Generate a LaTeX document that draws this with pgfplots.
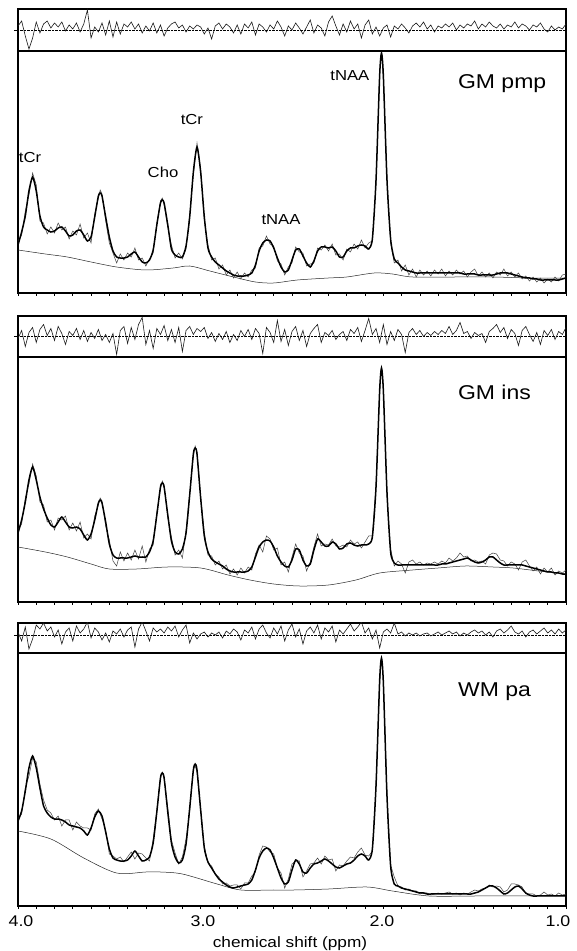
\documentclass[border=0pt]{standalone}
\usepackage{fontspec}
\setmainfont{Liberation Sans}[FakeStretch=1.15]
\usepackage{pgfplots}
\usepackage{pgfplotstable}
\pgfplotsset{compat=1.18}

% spectra: ppm, fit (thick), measured (thin); heights in pt above the panel floor
\pgfplotstableread{
x fit dat
4.00 48 52
3.98 61 58
3.96 77 82
3.94 102 98
3.92 116 120
3.90 102 108
3.88 77 72
3.86 66 70
3.84 63 59
3.82 61 66
3.80 62 60
3.78 65 70
3.76 66 63
3.74 62 66
3.72 57 54
3.70 58 62
3.68 62 58
3.66 63 69
3.64 58 55
3.62 52 60
3.60 56 50
3.58 76 79
3.56 97 95
3.55 100 103
3.54 97 99
3.52 76 72
3.50 56 50
3.48 42 40
3.46 36 30
3.44 35 39
3.42 35 33
3.40 36 40
3.38 39 36
3.36 41 45
3.34 36 33
3.32 31 35
3.30 30 27
3.28 33 34
3.26 43 40
3.24 68 70
3.22 90 92
3.21 93 95
3.20 90 88
3.18 68 66
3.16 44 48
3.14 38 35
3.12 36 40
3.10 36 34
3.08 47 44
3.06 76 79
3.04 121 118
3.02 146 150
3.00 121 124
2.98 76 72
2.96 45 48
2.94 36 33
2.92 31 35
2.90 28 24
2.88 25 28
2.86 22 18
2.84 20 23
2.82 18 15
2.80 17 21
2.78 17 14
2.76 17 20
2.74 18 16
2.72 20 23
2.70 28 25
2.68 42 45
2.66 50 47
2.64 53 57
2.62 52 49
2.60 45 47
2.58 35 32
2.56 26 29
2.54 21 18
2.52 23 26
2.50 33 30
2.48 43 46
2.46 44 41
2.44 37 40
2.42 30 27
2.40 26 29
2.38 32 30
2.36 42 45
2.34 46 43
2.32 46 48
2.30 45 42
2.28 46 49
2.26 42 38
2.24 36 39
2.22 36 33
2.20 42 44
2.18 45 41
2.16 45 49
2.14 47 44
2.12 48 53
2.10 47 45
2.08 44 50
2.06 54 52
2.04 113 108
2.02 218 222
2.01 240 241
2.00 218 214
1.98 113 117
1.96 54 50
1.94 34 30
1.92 30 33
1.90 26 22
1.88 23 28
1.86 22 18
1.84 21 24
1.82 20 16
1.80 20 23
1.78 20 18
1.76 20 22
1.74 20 17
1.72 20 23
1.70 20 19
1.68 20 24
1.66 20 17
1.64 20 22
1.62 20 18
1.60 20 23
1.58 20 19
1.56 19 22
1.54 19 16
1.52 19 21
1.50 19 24
1.48 18 17
1.46 18 21
1.44 18 16
1.42 18 20
1.40 18 15
1.38 19 21
1.36 20 18
1.34 20 24
1.32 20 17
1.30 19 21
1.28 18 16
1.26 17 20
1.24 16 14
1.22 15 17
1.20 15 12
1.18 14 16
1.16 14 11
1.14 13 15
1.12 13 10
1.10 13 14
1.08 13 11
1.06 13 16
1.04 13 12
1.02 14 18
1.00 15 19
}\specA

\pgfplotstableread{
x fit dat
4.00 69 72
3.98 82 78
3.96 100 104
3.94 122 118
3.92 135 138
3.90 122 126
3.88 105 100
3.86 93 97
3.84 84 80
3.82 77 82
3.80 75 72
3.78 80 84
3.76 85 82
3.74 80 86
3.72 75 72
3.70 74 79
3.68 75 71
3.66 73 80
3.64 67 64
3.62 62 68
3.60 68 63
3.58 82 86
3.56 99 97
3.55 102 104
3.54 99 101
3.52 80 76
3.50 58 62
3.48 47 41
3.46 44 36
3.44 44 50
3.42 44 41
3.40 44 49
3.38 45 42
3.36 46 52
3.34 45 43
3.32 45 56
3.30 45 40
3.28 50 53
3.26 61 57
3.24 87 90
3.22 115 113
3.21 119 121
3.20 115 117
3.18 87 84
3.16 61 65
3.14 50 47
3.12 48 52
3.10 53 44
3.08 69 72
3.06 107 110
3.04 148 146
3.03 154 156
3.02 148 150
3.00 104 106
2.98 66 70
2.96 50 47
2.94 43 46
2.92 40 37
2.90 38 41
2.88 36 33
2.86 33 37
2.84 31 28
2.82 30 33
2.80 30 27
2.78 30 34
2.76 30 29
2.74 31 35
2.72 35 32
2.70 45 48
2.68 55 57
2.66 60 50
2.64 62 66
2.62 61 63
2.60 55 52
2.58 46 54
2.56 40 37
2.54 36 40
2.52 35 30
2.50 42 45
2.48 53 58
2.46 52 49
2.44 42 46
2.42 36 31
2.40 38 40
2.38 52 55
2.36 63 68
2.34 60 56
2.32 56 58
2.30 56 57
2.28 60 63
2.26 58 56
2.24 53 55
2.22 54 57
2.20 58 55
2.18 59 62
2.16 57 58
2.14 56 60
2.12 57 54
2.10 57 60
2.08 58 66
2.06 65 66
2.04 115 118
2.02 212 210
2.01 234 235
2.00 212 216
1.98 110 106
1.96 50 53
1.94 39 36
1.92 37 41
1.90 37 38
1.88 37 29
1.86 37 40
1.84 37 42
1.82 37 38
1.80 37 40
1.78 37 37
1.76 37 39
1.74 37 38
1.72 37 40
1.70 37 38
1.68 38 41
1.66 38 39
1.64 39 44
1.62 40 41
1.60 41 44
1.58 42 49
1.56 43 45
1.54 44 46
1.52 42 41
1.50 40 42
1.48 39 40
1.46 40 41
1.44 42 38
1.42 45 47
1.40 45 49
1.38 42 48
1.36 39 42
1.34 37 41
1.32 37 36
1.30 37 40
1.28 37 38
1.26 37 32
1.24 37 40
1.22 36 42
1.20 35 36
1.18 34 31
1.16 33 35
1.14 32 28
1.12 31 34
1.10 30 30
1.08 30 34
1.06 29 27
1.04 29 31
1.02 28 29
1.00 28 32
}\specB

\pgfplotstableread{
x fit dat
4.00 85 87
3.98 95 92
3.96 115 118
3.94 138 130
3.92 150 148
3.90 138 144
3.88 118 122
3.86 100 106
3.84 93 96
3.82 89 93
3.80 87 86
3.78 87 90
3.76 86 80
3.74 84 86
3.72 81 86
3.70 80 76
3.68 79 84
3.66 78 80
3.64 75 78
3.62 71 78
3.60 78 76
3.58 89 92
3.56 95 97
3.54 90 87
3.52 74 76
3.50 57 52
3.48 48 50
3.46 46 47
3.44 45 49
3.42 45 44
3.40 46 49
3.38 50 54
3.36 55 47
3.34 50 53
3.32 45 52
3.30 46 48
3.28 49 45
3.26 63 67
3.24 94 96
3.22 128 130
3.21 133 134
3.20 128 129
3.18 94 98
3.16 63 66
3.14 49 53
3.12 43 42
3.10 46 49
3.08 62 67
3.06 98 94
3.04 136 137
3.03 142 140
3.02 136 134
3.00 96 97
2.98 58 60
2.96 44 43
2.94 38 40
2.92 32 32
2.90 27 29
2.88 24 22
2.86 21 23
2.84 19 20
2.82 18 21
2.80 19 21
2.78 20 17
2.76 21 23
2.74 22 23
2.72 26 30
2.70 36 34
2.68 48 51
2.66 55 60
2.64 58 59
2.62 56 54
2.60 48 52
2.58 38 38
2.56 28 33
2.54 22 18
2.52 24 27
2.50 36 42
2.48 46 45
2.46 42 45
2.44 34 29
2.42 33 35
2.40 38 42
2.38 42 43
2.36 43 48
2.34 45 42
2.32 47 50
2.30 45 46
2.28 42 47
2.26 39 35
2.24 38 41
2.22 40 40
2.20 42 45
2.18 43 49
2.16 46 48
2.14 50 54
2.12 52 58
2.10 50 51
2.08 46 50
2.06 57 55
2.04 120 123
2.02 226 222
2.01 248 249
2.00 224 226
1.98 110 113
1.96 40 41
1.94 22 29
1.92 20 20
1.90 18 19
1.88 17 16
1.86 16 17
1.84 15 15
1.82 14 15
1.80 13 12
1.78 13 13
1.76 12 13
1.74 12 11
1.72 12 12
1.70 12 13
1.68 12 12
1.66 12 13
1.64 12 14
1.62 12 12
1.60 12 13
1.58 12 11
1.56 12 13
1.54 12 12
1.52 12 14
1.50 13 16
1.48 14 15
1.46 16 17
1.44 18 18
1.42 20 21
1.40 20 19
1.38 18 20
1.36 15 19
1.34 12 14
1.32 13 16
1.30 16 22
1.28 19 22
1.26 20 21
1.24 17 19
1.22 13 12
1.20 11 12
1.18 10 12
1.16 10 10
1.14 10 11
1.12 10 14
1.10 10 11
1.08 10 12
1.06 10 10
1.04 10 13
1.02 10 11
1.00 10 12
}\specC

% residuals
\pgfplotstableread{
x r
4.00 4
3.98 9
3.96 -6
3.94 -19
3.92 -8
3.90 8
3.88 -3
3.86 6
3.84 9
3.82 2
3.80 7
3.78 3
3.76 8
3.74 -1
3.72 5
3.70 1
3.68 7
3.66 -2
3.64 6
3.62 20
3.60 -8
3.58 3
3.56 -2
3.54 7
3.52 -5
3.50 9
3.48 -7
3.46 8
3.44 -4
3.42 6
3.40 3
3.38 8
3.36 1
3.34 6
3.32 -3
3.30 4
3.28 -1
3.26 7
3.24 -3
3.22 5
3.20 -6
3.18 2
3.16 6
3.14 8
3.12 2
3.10 5
3.08 -2
3.06 4
3.04 1
3.02 5
3.00 3
2.98 -4
2.96 2
2.94 -9
2.92 4
2.90 7
2.88 1
2.86 6
2.84 3
2.82 -3
2.80 5
2.78 -4
2.76 6
2.74 2
2.72 8
2.70 -5
2.68 6
2.66 3
2.64 -2
2.62 5
2.60 1
2.58 9
2.56 3
2.54 -6
2.52 4
2.50 0
2.48 7
2.46 2
2.44 -4
2.42 3
2.40 10
2.38 -3
2.36 5
2.34 2
2.32 -6
2.30 8
2.28 14
2.26 4
2.24 -5
2.22 6
2.20 -2
2.18 9
2.16 1
2.14 6
2.12 -8
2.10 5
2.08 10
2.06 -4
2.04 3
2.02 -6
2.00 2
1.98 5
1.96 -7
1.94 4
1.92 1
1.90 6
1.88 2
1.86 -3
1.84 4
1.82 7
1.80 3
1.78 8
1.76 1
1.74 5
1.72 -2
1.70 4
1.68 2
1.66 6
1.64 3
1.62 7
1.60 0
1.58 5
1.56 2
1.54 6
1.52 4
1.50 9
1.48 1
1.46 6
1.44 3
1.42 8
1.40 4
1.38 2
1.36 6
1.34 1
1.32 5
1.30 3
1.28 8
1.26 2
1.24 6
1.22 4
1.20 0
1.18 5
1.16 3
1.14 7
1.12 1
1.10 -2
1.08 4
1.06 0
1.04 3
1.02 1
1.00 6
}\resA

\pgfplotstableread{
x r
4.00 -2
3.98 6
3.96 -10
3.94 4
3.92 9
3.90 -6
3.88 7
3.86 12
3.84 1
3.82 8
3.80 -4
3.78 10
3.76 3
3.74 -8
3.72 5
3.70 1
3.68 8
3.66 -3
3.64 6
3.62 -5
3.60 4
3.58 -2
3.56 7
3.54 -4
3.52 2
3.50 -6
3.48 3
3.46 -18
3.44 6
3.42 10
3.40 -7
3.38 9
3.36 -3
3.34 12
3.32 19
3.30 -8
3.28 6
3.26 -12
3.24 8
3.22 2
3.20 11
3.18 -4
3.16 7
3.14 -6
3.12 9
3.10 -15
3.08 6
3.06 10
3.04 2
3.02 8
3.00 5
2.98 9
2.96 -2
2.94 4
2.92 -5
2.90 3
2.88 -3
2.86 5
2.84 -6
2.82 2
2.80 -4
2.78 6
2.76 0
2.74 7
2.72 -3
2.70 8
2.68 3
2.66 -17
2.64 9
2.62 4
2.60 -6
2.58 16
2.56 -5
2.54 7
2.52 -9
2.50 5
2.48 10
2.46 -4
2.44 6
2.42 -10
2.40 3
2.38 8
2.36 12
2.34 -6
2.32 4
2.30 1
2.28 6
2.26 -3
2.24 2
2.22 5
2.20 -4
2.18 7
2.16 3
2.14 9
2.12 -5
2.10 6
2.08 18
2.06 2
2.04 8
2.02 -6
2.00 12
1.98 -8
1.96 5
1.94 -4
1.92 7
1.90 2
1.88 -16
1.86 4
1.84 8
1.82 2
1.80 6
1.78 0
1.76 4
1.74 1
1.72 5
1.70 2
1.68 6
1.66 3
1.64 10
1.62 2
1.60 6
1.58 14
1.56 3
1.54 5
1.52 -2
1.50 4
1.48 1
1.46 3
1.44 -6
1.42 5
1.40 8
1.38 12
1.36 4
1.34 9
1.32 -2
1.30 7
1.28 3
1.26 -9
1.24 6
1.22 10
1.20 2
1.18 -5
1.16 4
1.14 -8
1.12 6
1.10 1
1.08 7
1.06 -3
1.04 5
1.02 2
1.00 9
}\resB

\pgfplotstableread{
x r
4.00 3
3.98 -6
3.96 8
3.94 -14
3.92 -4
3.90 10
3.88 6
3.86 12
3.84 4
3.82 8
3.80 -2
3.78 5
3.76 -9
3.74 3
3.72 7
3.70 -6
3.68 9
3.66 2
3.64 6
3.62 13
3.60 -3
3.58 7
3.56 3
3.54 -5
3.52 2
3.50 -7
3.48 4
3.46 1
3.44 6
3.42 -2
3.40 5
3.38 8
3.36 -12
3.34 6
3.32 13
3.30 4
3.28 -6
3.26 7
3.24 3
3.22 6
3.20 2
3.18 8
3.16 4
3.14 9
3.12 -2
3.10 5
3.08 10
3.06 -8
3.04 2
3.02 -4
3.00 1
2.98 3
2.96 -2
2.94 2
2.92 0
2.90 3
2.88 -3
2.86 4
2.84 1
2.82 6
2.80 3
2.78 -5
2.76 5
2.74 2
2.72 8
2.70 -4
2.68 6
2.66 10
2.64 2
2.62 -3
2.60 7
2.58 1
2.56 9
2.54 -6
2.52 5
2.50 11
2.48 -2
2.46 6
2.44 -9
2.42 4
2.40 8
2.38 2
2.36 10
2.34 -4
2.32 7
2.30 3
2.28 9
2.26 -7
2.24 5
2.22 1
2.20 6
2.18 11
2.16 4
2.14 8
2.12 13
2.10 2
2.08 7
2.06 -4
2.04 5
2.02 -13
2.00 3
1.98 6
1.96 2
1.94 12
1.92 1
1.90 3
1.88 -1
1.86 2
1.84 0
1.82 2
1.80 -1
1.78 1
1.76 2
1.74 -1
1.72 1
1.70 3
1.68 0
1.66 2
1.64 4
1.62 1
1.60 3
1.58 -1
1.56 2
1.54 0
1.52 3
1.50 5
1.48 2
1.46 4
1.44 0
1.42 3
1.40 -2
1.38 4
1.36 6
1.34 2
1.32 5
1.30 9
1.28 3
1.26 1
1.24 4
1.22 -2
1.20 3
1.18 5
1.16 1
1.14 4
1.12 7
1.10 2
1.08 5
1.06 1
1.04 6
1.02 2
1.00 5
}\resC

\pgfplotsset{
  every axis/.append style={
    scale only axis, width=548pt, xmin=1, xmax=4, x dir=reverse,
    anchor=south west, axis line style={line width=1.3pt},
    tick style={black, line width=0.7pt}, clip mode=individual,
  },
  resid/.style={xtick=\empty, ytick={0}, yticklabels={}, ytick pos=left,
    tick align=outside, major tick length=4pt},
  spec/.style={ymin=0, xtick={1,2,3,4}, xticklabels={}, minor x tick num=9,
    xtick pos=left, ytick=\empty, tick align=outside,
    major tick length=3pt, minor tick length=3pt},
  fitl/.style={black, line width=1.5pt, smooth, tension=0.4},
  datl/.style={black!75, line width=0.5pt},
  basel/.style={black!85, line width=0.5pt, smooth},
  resl/.style={black!90, line width=0.6pt},
  zerol/.style={black, densely dotted, line width=0.4pt},
}
\tikzset{peak/.style={font=\fontsize{14.5}{16}\selectfont, anchor=base}}

\begin{document}
\begin{tikzpicture}
\useasboundingbox (0pt,0pt) rectangle (577pt,951pt);

% ---------- GM pmp ----------
\begin{axis}[resid, at={(18pt,900pt)}, height=42pt, ymin=-21, ymax=21]
\addplot[zerol] coordinates {(1,0) (4,0)};
\addplot[resl] table[x=x,y=r]{\resA};
\end{axis}
\begin{axis}[spec, at={(18pt,658pt)}, height=242pt, ymax=242]
\addplot[basel] coordinates {(4.0,43) (3.85,39) (3.73,36) (3.6,31) (3.46,26) (3.3,23) (3.15,25) (3.06,27) (2.95,22) (2.82,16) (2.7,11) (2.6,10) (2.47,13) (2.3,15) (2.2,16) (2.05,20) (1.95,19) (1.84,16) (1.6,16) (1.4,16) (1.2,15) (1.0,15)};
\addplot[datl] table[x=x,y=dat]{\specA};
\addplot[fitl] table[x=x,y=fit]{\specA};
\node[peak] at (axis cs:3.934,130) {tCr};
\node[peak] at (axis cs:3.206,115) {Cho};
\node[peak] at (axis cs:3.048,168) {tCr};
\node[peak] at (axis cs:2.560,68) {tNAA};
\node[peak] at (axis cs:2.183,212) {tNAA};
\node[font=\fontsize{20}{22}\selectfont, anchor=base west, inner sep=0pt] at (axis cs:1.592,204.7) {GM pmp};
\end{axis}

% ---------- GM ins ----------
\begin{axis}[resid, at={(18pt,594pt)}, height=41pt, ymin=-20.5, ymax=20.5]
\addplot[zerol] coordinates {(1,0) (4,0)};
\addplot[resl] table[x=x,y=r]{\resB};
\end{axis}
\begin{axis}[spec, at={(18pt,349pt)}, height=245pt, ymax=245]
\addplot[basel] coordinates {(4.0,55) (3.85,50) (3.73,45) (3.6,38) (3.5,33) (3.35,33) (3.18,35) (3.0,34) (2.85,27) (2.73,22) (2.6,18) (2.46,16) (2.3,17) (2.15,22) (2.02,29) (1.84,32) (1.7,34) (1.55,36) (1.4,35) (1.29,34) (1.15,31) (1.0,28)};
\addplot[datl] table[x=x,y=dat]{\specB};
\addplot[fitl] table[x=x,y=fit]{\specB};
\node[font=\fontsize{20}{22}\selectfont, anchor=base west, inner sep=0pt] at (axis cs:1.592,202) {GM ins};
\end{axis}

% ---------- WM pa ----------
\begin{axis}[resid, at={(18pt,298pt)}, height=30pt, ymin=-18, ymax=12]
\addplot[zerol] coordinates {(1,0) (4,0)};
\addplot[resl] table[x=x,y=r]{\resC};
\end{axis}
\begin{axis}[spec, at={(18pt,45pt)}, height=253pt, ymax=253]
\addplot[basel] coordinates {(4.0,75) (3.82,67) (3.64,48) (3.46,33) (3.3,34) (3.22,34) (3.1,32) (2.91,22) (2.78,16) (2.6,16) (2.49,16) (2.3,17) (2.09,19) (1.95,15) (1.75,10) (1.5,10) (1.2,10) (1.0,10)};
\addplot[datl] table[x=x,y=dat]{\specC};
\addplot[fitl] table[x=x,y=fit]{\specC};
\node[font=\fontsize{20}{22}\selectfont, anchor=base west, inner sep=0pt] at (axis cs:1.592,209) {WM pa};
\end{axis}

% x tick labels and axis title
\node[font=\fontsize{15.5}{17}\selectfont, anchor=base] at (21pt,24pt) {4.0};
\node[font=\fontsize{15.5}{17}\selectfont, anchor=base] at (203pt,24pt) {3.0};
\node[font=\fontsize{15.5}{17}\selectfont, anchor=base] at (382pt,24pt) {2.0};
\node[font=\fontsize{15.5}{17}\selectfont, anchor=base] at (558pt,24pt) {1.0};
\node[font=\fontsize{15}{17}\selectfont, anchor=base] at (290pt,4pt) {chemical shift (ppm)};
\end{tikzpicture}
\end{document}
